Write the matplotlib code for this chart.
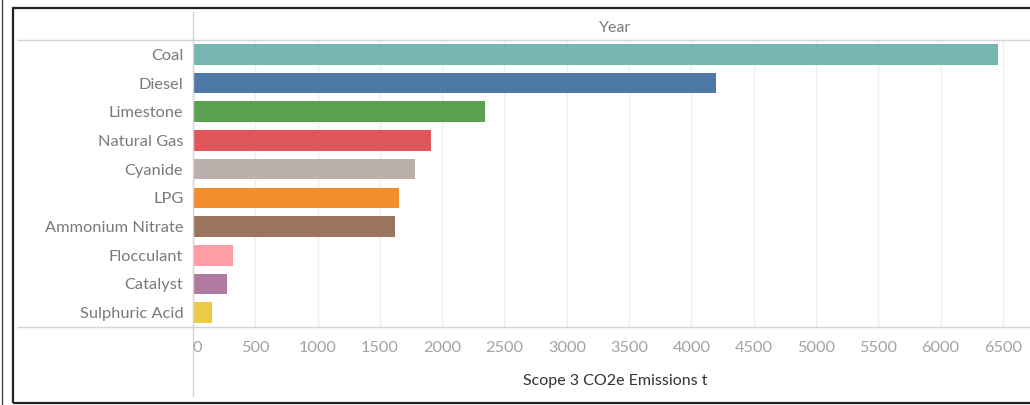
import matplotlib.pyplot as plt
from matplotlib.lines import Line2D
from matplotlib.patches import Rectangle

# data
categories = ['Coal', 'Diesel', 'Limestone', 'Natural Gas', 'Cyanide', 'LPG',
              'Ammonium Nitrate', 'Flocculant', 'Catalyst', 'Sulphuric Acid']
emissions = [6460, 4200, 2345, 1910, 1785, 1655, 1625, 320, 275, 150]
colors = ['#76b7b2', '#4e79a7', '#59a14f', '#e15759', '#bab0ac', '#f28e2b',
          '#9c755f', '#ff9da7', '#b07aa1', '#edc948']
ticks = list(range(0, 7000, 500))

W, H = 1030, 405
plt.rcParams['font.family'] = ['Lato', 'DejaVu Sans']
fig = plt.figure(figsize=(W / 100, H / 100), dpi=100)

def fx(px):
    return px / W

def fy(py):
    return 1 - py / H

# plot area: x 193..1030, y 40..327
ax = fig.add_axes([fx(193), fy(327), fx(1030 - 193), (327 - 40) / H])
ypos = list(range(len(categories)))
ax.barh(ypos, emissions, color=colors, height=0.72, zorder=3)
ax.set_ylim(len(categories) - 0.5, -0.5)
ax.set_xlim(0, (1030 - 193) * 500 / 62.3)
ax.set_xticks(ticks)
ax.xaxis.grid(True, color='#efefef', linewidth=1, zorder=0)
ax.set_yticks(ypos)
ax.set_yticklabels(categories, fontsize=11.8, color='#7a7a7a')
ax.tick_params(axis='y', length=0, pad=7)
ax.tick_params(axis='x', length=0, labelbottom=False)
for s in ax.spines.values():
    s.set_visible(False)

# x tick labels below the bottom rule
for t in ticks:
    xp = 193 + t / 500 * 62.3
    if t == 0:
        xp += 4
    fig.text(fx(xp), fy(348), str(t), ha='center', va='center',
             fontsize=11.8, color='#a3a3a3')

fig.text(fx(615), fy(381), 'Scope 3 CO2e Emissions t', ha='center', va='center',
         fontsize=11.5, color='#333333')
fig.text(fx(615), fy(28), 'Year', ha='center', va='center',
         fontsize=11.5, color='#7a7a7a')

# header / footer rules
line_kw = dict(color='#d4d4d4', linewidth=1, transform=fig.transFigure)
fig.add_artist(Line2D([fx(18), 1], [fy(40), fy(40)], **line_kw))
fig.add_artist(Line2D([fx(18), 1], [fy(327), fy(327)], **line_kw))
fig.add_artist(Line2D([fx(193), fx(193)], [fy(12), fy(396)], **line_kw))

# outer frame
fig.add_artist(Rectangle((fx(12.5), fy(403)), 1.1, (403 - 8) / H, fill=False,
                         edgecolor='#222222', linewidth=1.6,
                         transform=fig.transFigure))
fig.add_artist(Line2D([fx(2), fx(2)], [0, 1], color='#444444', linewidth=1,
                      transform=fig.transFigure))

fig.savefig('out.png', dpi=100)
